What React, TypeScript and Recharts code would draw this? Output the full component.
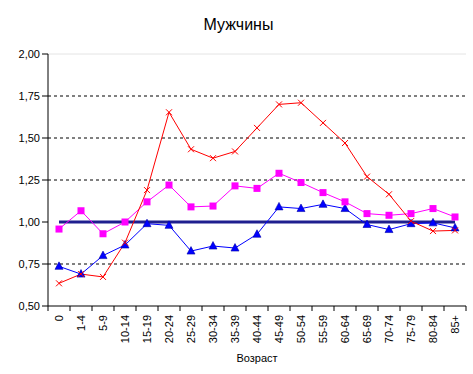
import { LineChart, Line, XAxis, YAxis, ReferenceLine } from 'recharts';

const ageGroups = ['0', '1-4', '5-9', '10-14', '15-19', '20-24', '25-29', '30-34', '35-39', '40-44', '45-49', '50-54', '55-59', '60-64', '65-69', '70-74', '75-79', '80-84', '85+'];
const redValues = [0.635, 0.69, 0.673, 0.877, 1.19, 1.653, 1.433, 1.38, 1.42, 1.56, 1.70, 1.71, 1.59, 1.47, 1.27, 1.165, 1.005, 0.946, 0.95];
const magentaValues = [0.958, 1.067, 0.93, 1.0, 1.12, 1.22, 1.09, 1.095, 1.215, 1.20, 1.29, 1.235, 1.175, 1.12, 1.05, 1.04, 1.05, 1.08, 1.03];
const blueValues = [0.736, 0.69, 0.80, 0.863, 0.99, 0.98, 0.827, 0.857, 0.845, 0.927, 1.09, 1.08, 1.105, 1.08, 0.985, 0.955, 0.99, 0.995, 0.965];
const baseline = 1;
const yTicks = [0.5, 0.75, 1.0, 1.25, 1.5, 1.75, 2.0];
const dashedLevels = [0.75, 1.25, 1.5, 1.75];

const data = ageGroups.map((age, i) => ({
  age,
  red: redValues[i],
  magenta: magentaValues[i],
  blue: blueValues[i],
  base: baseline,
}));

const FONT = '"Liberation Sans", Arial, sans-serif';
const BAND = 22;

const fmt = (v: number) => v.toFixed(2).replace('.', ',');

function AgeTick({ x, y, payload, index }: any) {
  const last = index === ageGroups.length - 1;
  return (
    <g>
      <line x1={x - BAND / 2} y1={y - 8} x2={x - BAND / 2} y2={y - 3} stroke="#000" />
      {last && <line x1={x + BAND / 2} y1={y - 8} x2={x + BAND / 2} y2={y - 3} stroke="#000" />}
      <text
        transform={`translate(${x},${y + 1}) rotate(-90)`}
        textAnchor="end"
        dominantBaseline="central"
        fontSize={11}
        fontFamily={FONT}
        fill="#000"
      >
        {payload.value}
      </text>
    </g>
  );
}

function CrossDot({ cx, cy }: any) {
  const s = 3;
  return (
    <g stroke="#ff0000" strokeWidth={1}>
      <line x1={cx - s} y1={cy - s} x2={cx + s} y2={cy + s} />
      <line x1={cx - s} y1={cy + s} x2={cx + s} y2={cy - s} />
    </g>
  );
}

function SquareDot({ cx, cy }: any) {
  return <rect x={cx - 3.5} y={cy - 3.5} width={7} height={7} fill="#ff00ff" />;
}

function TriangleDot({ cx, cy }: any) {
  return (
    <polygon
      points={`${cx},${cy - 4.5} ${cx + 4},${cy + 3} ${cx - 4},${cy + 3}`}
      fill="#0000ff"
      stroke="#0000aa"
      strokeWidth={0.6}
    />
  );
}

export default function App() {
  return (
    <div style={{ position: 'absolute', left: 0, top: 0, width: 473, height: 374, background: '#fff', fontFamily: FONT }}>
      <div style={{ position: 'absolute', left: 0, width: 473, top: 16, textAlign: 'center', fontSize: 16, color: '#000', paddingLeft: 2 }}>
        Мужчины
      </div>
      <LineChart width={473} height={374} data={data} margin={{ top: 54, right: 7, bottom: 0, left: 0 }}>
        <XAxis
          dataKey="age"
          padding={{ left: BAND / 2, right: BAND / 2 }}
          axisLine={{ stroke: '#000' }}
          tickLine={false}
          tick={<AgeTick />}
          interval={0}
          height={68}
        />
        <YAxis
          domain={[0.5, 2]}
          ticks={yTicks}
          tickFormatter={fmt}
          width={48}
          tickSize={6}
          tickMargin={2}
          axisLine={{ stroke: '#000' }}
          tickLine={{ stroke: '#000' }}
          tick={{ fontSize: 11, fill: '#000', fontFamily: FONT }}
        />
        <YAxis
          yAxisId="r"
          orientation="right"
          domain={[0.5, 2]}
          width={0}
          tick={false}
          tickLine={false}
          axisLine={{ stroke: '#e4e4e4' }}
        />
        <ReferenceLine y={2} stroke="#e4e4e4" />
        {dashedLevels.map((v) => (
          <ReferenceLine key={v} y={v} stroke="#000" strokeDasharray="3 3" />
        ))}
        <Line dataKey="base" stroke="#1f1f8f" strokeWidth={3} dot={false} isAnimationActive={false} />
        <Line dataKey="blue" type="linear" stroke="#0000ff" strokeWidth={1} dot={<TriangleDot />} isAnimationActive={false} />
        <Line dataKey="magenta" type="linear" stroke="#ff00ff" strokeWidth={1} dot={<SquareDot />} isAnimationActive={false} />
        <Line dataKey="red" type="linear" stroke="#ff0000" strokeWidth={1} dot={<CrossDot />} isAnimationActive={false} />
      </LineChart>
      <div style={{ position: 'absolute', left: 48, width: 418, top: 352, textAlign: 'center', fontSize: 11, color: '#000' }}>
        Возраст
      </div>
    </div>
  );
}
